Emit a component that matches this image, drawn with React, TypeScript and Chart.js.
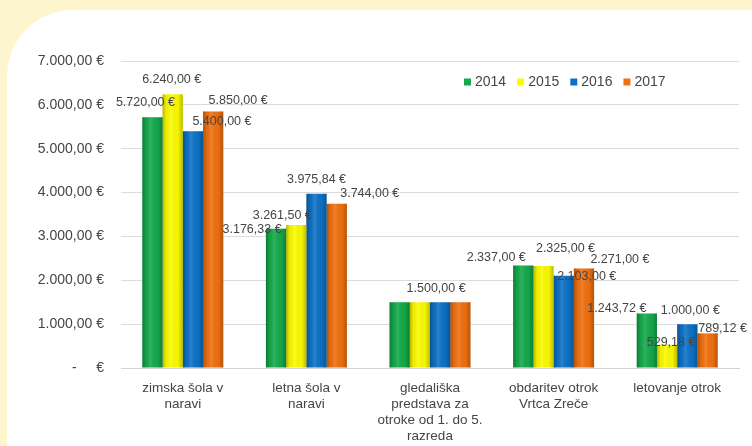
import React, { useEffect, useRef } from "react";
import { Chart, registerables } from "chart.js";

Chart.register(...registerables);

const categories: string[][] = [
  ["zimska šola v", "naravi"],
  ["letna šola v", "naravi"],
  ["gledališka", "predstava za", "otroke od 1. do 5.", "razreda"],
  ["obdaritev otrok", "Vrtca Zreče"],
  ["letovanje otrok"],
];
const years = ["2014", "2015", "2016", "2017"];
const values2014 = [5720, 3176.33, 1500, 2337, 1243.72];
const values2015 = [6240, 3261.5, 1500, 2325, 529.18];
const values2016 = [5400, 3975.84, 1500, 2103, 1000];
const values2017 = [5850, 3744, 1500, 2271, 789.12];
const yTicks = [0, 1000, 2000, 3000, 4000, 5000, 6000, 7000];
const colors = ["#14a94b", "#fbfb00", "#0d71c6", "#f0700f"];

// label nudges (dx, dy) from the bar's top centre; null = label hidden
const labelNudges: ([number, number] | null)[][] = [
  [[-7, -15], [-24, 1], null, [-27, -8], [-30, -5]],
  [[-1, -15], [-14, -9], null, [22, -17], [4, -2]],
  [[29, -10], [0, -14], [-4, -14], [23, 1], [3, -14]],
  [[25, -11], [33, -10], null, [36, -9], [15, -5]],
];

const FONT = "'Liberation Sans', Arial, sans-serif";
const TEXT = "#454545";

function fmtEuro(v: number): string {
  if (v === 0) return "-     €";
  const [int, dec] = v.toFixed(2).split(".");
  const withDots = int.replace(/\B(?=(\d{3})+(?!\d))/g, ".");
  return `${withDots},${dec} €`;
}

const shadePlugin = {
  id: "shade",
  afterDatasetsDraw(chart: any) {
    const ctx = chart.ctx;
    chart.data.datasets.forEach((_: any, di: number) => {
      const meta = chart.getDatasetMeta(di);
      meta.data.forEach((bar: any) => {
        const { x, y, base, width } = bar.getProps(["x", "y", "base", "width"], true);
        const l = x - width / 2;
        const g = ctx.createLinearGradient(l, 0, l + width, 0);
        g.addColorStop(0, "rgba(0,0,0,0.28)");
        g.addColorStop(0.18, "rgba(0,0,0,0.05)");
        g.addColorStop(0.4, "rgba(255,255,255,0.12)");
        g.addColorStop(0.75, "rgba(0,0,0,0.02)");
        g.addColorStop(1, "rgba(0,0,0,0.25)");
        ctx.save();
        ctx.fillStyle = g;
        ctx.fillRect(l, y, width, base - y);
        ctx.restore();
      });
    });
  },
};

const labelPlugin = {
  id: "valueLabels",
  afterDatasetsDraw(chart: any) {
    const ctx = chart.ctx;
    ctx.save();
    ctx.font = `12.5px ${FONT}`;
    ctx.fillStyle = TEXT;
    ctx.textAlign = "center";
    ctx.textBaseline = "middle";
    chart.data.datasets.forEach((ds: any, di: number) => {
      const meta = chart.getDatasetMeta(di);
      meta.data.forEach((bar: any, i: number) => {
        const n = labelNudges[di][i];
        if (!n) return;
        const { x, y } = bar.getProps(["x", "y"], true);
        ctx.fillText(fmtEuro(ds.data[i]), x + n[0], y + n[1]);
      });
    });
    ctx.restore();
  },
};

const legendPlugin = {
  id: "customLegend",
  afterDraw(chart: any) {
    const ctx = chart.ctx;
    ctx.save();
    ctx.font = `14px ${FONT}`;
    ctx.textBaseline = "middle";
    ctx.textAlign = "left";
    let x = 464;
    const yc = 82;
    chart.data.datasets.forEach((ds: any) => {
      ctx.fillStyle = ds.backgroundColor;
      ctx.fillRect(x, yc - 3.5, 7, 7);
      x += 11;
      ctx.fillStyle = TEXT;
      ctx.fillText(ds.label, x, yc);
      x += ctx.measureText(ds.label).width + 11;
    });
    ctx.restore();
  },
};

export default function App() {
  const canvasRef = useRef<HTMLCanvasElement | null>(null);

  useEffect(() => {
    if (!canvasRef.current) return;
    const series = [values2014, values2015, values2016, values2017];
    const chart = new Chart(canvasRef.current, {
      type: "bar",
      data: {
        labels: categories,
        datasets: years.map((yr, i) => ({
          label: yr,
          data: series[i],
          backgroundColor: colors[i],
          borderWidth: 0,
          barPercentage: 1.0,
          categoryPercentage: 0.655,
        })),
      },
      options: {
        responsive: false,
        animation: false,
        layout: { padding: { top: 61, right: 13, bottom: 0, left: 0 } },
        plugins: {
          legend: { display: false },
          tooltip: { enabled: false },
          title: { display: false },
        },
        scales: {
          x: {
            grid: { display: false, drawTicks: false },
            border: { display: true, color: "#d4d4d4", width: 1 },
            ticks: {
              color: TEXT,
              font: { family: FONT, size: 13.5, lineHeight: 1.2 },
              padding: 12,
              maxRotation: 0,
              autoSkip: false,
            },
            afterFit: (s: any) => {
              s.height = 78;
            },
          },
          y: {
            min: 0,
            max: 7000,
            afterBuildTicks: (s: any) => {
              s.ticks = yTicks.map((v) => ({ value: v }));
            },
            grid: { color: "#dcdcdc", drawTicks: false, lineWidth: 1 },
            border: { display: false },
            ticks: {
              color: TEXT,
              font: { family: FONT, size: 14 },
              padding: 17,
              callback: (v: any) => fmtEuro(Number(v)),
            },
            afterFit: (s: any) => {
              s.width = 121;
            },
          },
        },
      },
      plugins: [shadePlugin, labelPlugin, legendPlugin],
    });
    return () => chart.destroy();
  }, []);

  return (
    <div
      style={{
        position: "fixed",
        left: 0,
        top: 0,
        width: 752,
        height: 446,
        background: "#fdf5cd",
        overflow: "hidden",
      }}
    >
      <div
        style={{
          position: "absolute",
          left: 7,
          top: 10,
          right: 0,
          bottom: 0,
          background: "#ffffff",
          borderTopLeftRadius: 66,
        }}
      />
      <canvas
        ref={canvasRef}
        width={752}
        height={446}
        style={{ position: "absolute", left: 0, top: 0, width: 752, height: 446 }}
      />
    </div>
  );
}
